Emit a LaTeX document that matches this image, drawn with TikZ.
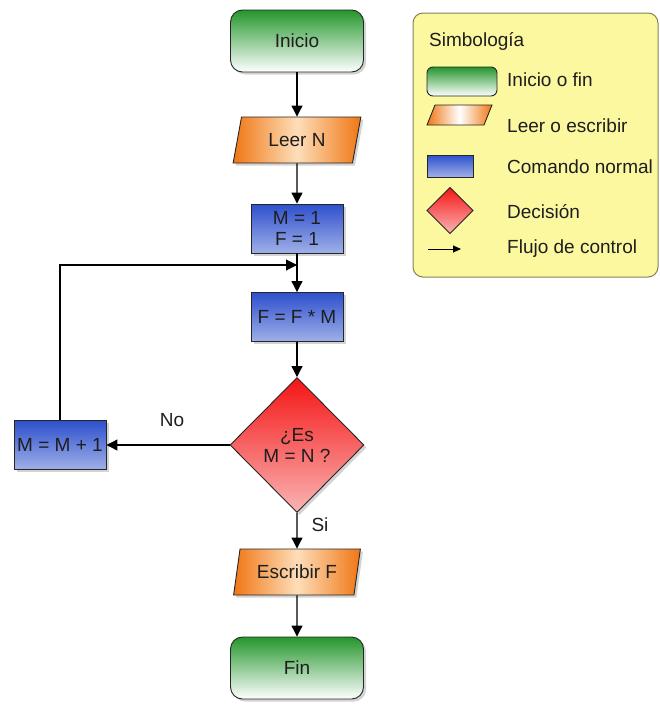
\documentclass[tikz,border=0pt]{standalone}
\usepackage{fontspec}
\setmainfont{Liberation Sans}
\usetikzlibrary{shapes.geometric,arrows.meta,shadows}
\definecolor{grn}{RGB}{36,150,44}
\definecolor{org}{RGB}{240,118,20}
\definecolor{orgl}{RGB}{253,222,185}
\definecolor{blu}{RGB}{45,80,205}
\definecolor{blul}{RGB}{160,176,232}
\definecolor{rd}{RGB}{245,20,20}
\definecolor{rdl}{RGB}{250,180,180}
\definecolor{legfill}{RGB}{252,248,160}
\definecolor{legdraw}{RGB}{130,130,90}
\definecolor{txt}{RGB}{30,30,30}
\begin{document}
\begin{tikzpicture}[x=1pt,y=-1pt,
  base/.style={draw=black!85, line width=0.9pt, text=txt, align=center, inner sep=0pt,
    font=\fontsize{19}{21}\selectfont,
    drop shadow={shadow xshift=2.5pt, shadow yshift=-2.5pt, opacity=0.35}},
  term/.style={base, rectangle, rounded corners=12pt, minimum width=133pt, minimum height=62pt,
    top color=grn, bottom color=white},
  io/.style={base, trapezium, trapezium left angle=72, trapezium right angle=108,
    trapezium stretches=true, minimum width=128pt, minimum height=46pt,
    left color=org, right color=org, middle color=orgl},
  cmd/.style={base, rectangle, minimum width=92pt, minimum height=49pt,
    top color=blu, bottom color=blul},
  dec/.style={base, diamond, minimum width=134pt, minimum height=135pt,
    top color=rd, bottom color=rdl},
  arr/.style={line width=1.1pt, draw=black, -{Triangle[length=11pt,width=11pt]}},
  lbl/.style={font=\fontsize{19}{21}\selectfont, text=txt, inner sep=0pt},
  icon/.style={draw=black!85, line width=0.9pt}
]
\useasboundingbox (0,0) rectangle (659,704);

% main flow
\node[term] (inicio) at (297,41) {Inicio};
\node[io]   (leer)   at (297,140) {Leer N};
\node[cmd]  (m1)     at (297,228.5) {M = 1\\F = 1};
\node[cmd]  (fm)     at (297,317) {F = F * M};
\node[dec]  (dec)    at (297,445) {¿Es\\M = N ?};
\node[cmd]  (mm)     at (60,445) {M = M + 1};
\node[io]   (esc)    at (297,572) {Escribir F};
\node[term] (fin)    at (297,668) {Fin};
\coordinate (join) at (297,265);

\draw[arr] (inicio) -- (leer);
\draw[arr] (leer) -- (m1);
\draw[arr] (m1) -- (fm);
\draw[arr] (fm) -- (dec);
\draw[arr] (dec.west) -- (mm.east);
\node[lbl] (no) at (172,420) {No};
\draw[arr] (mm.north) |- (join);
\draw[arr] (dec.south) -- (esc.north);
\node[lbl] (si) at (320,525) {Si};
\draw[arr] (esc) -- (fin);

% legend
\node[draw=legdraw, line width=1pt, fill=legfill, rounded corners=10pt,
  minimum width=245pt, minimum height=264pt, inner sep=0pt] (legend) at (535.5,145) {};
\node[lbl, anchor=west] (ltitle) at (429,41) {Simbología};
\path[icon, rounded corners=6pt, top color=grn, bottom color=white] (427,67) rectangle (497,96);
\path[icon, left color=org, right color=org, middle color=white] (435,105) -- (492,105) -- (484,125) -- (427,125) -- cycle;
\path[icon, top color=blu, bottom color=blul] (427,155) rectangle (473,177);
\path[icon, top color=rd, bottom color=rdl] (450,187.5) -- (473,210.5) -- (450,233.5) -- (427,210.5) -- cycle;
\coordinate (la) at (428,249);
\coordinate (lb) at (461,249);
\draw[line width=0.9pt, -{Triangle[length=8pt,width=7pt]}] (la) -- (lb);
\node[lbl, anchor=west] (t1) at (507,80) {Inicio o fin};
\node[lbl, anchor=west] (t2) at (507,126) {Leer o escribir};
\node[lbl, anchor=west] (t3) at (507,167) {Comando normal};
\node[lbl, anchor=west] (t4) at (507,212) {Decisión};
\node[lbl, anchor=west] (t5) at (507,249) {Flujo de control};
\end{tikzpicture}
\end{document}
